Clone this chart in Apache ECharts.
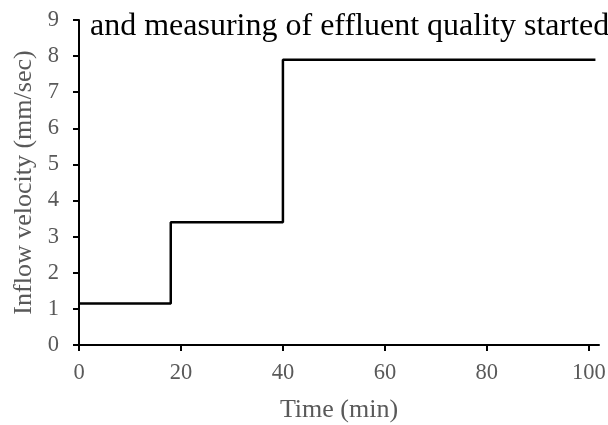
<!DOCTYPE html>
<html>
<head>
<meta charset="utf-8">
<style>
  html, body { margin: 0; padding: 0; background: #fff; }
  #chart { width: 608px; height: 425px; }
</style>
<script src="https://cdn.jsdelivr.net/npm/echarts@6/dist/echarts.min.js"></script>
</head>
<body>
<div id="chart"></div>
<script>
// Inflow velocity steps: each value holds from its time until the next time
const stepTimes = [0, 18, 40, 101.3];
const velocities = [1.15, 3.4, 7.9, 7.9];
const xTicks = [0, 20, 40, 60, 80, 100];
const yTicks = [0, 1, 2, 3, 4, 5, 6, 7, 8, 9];
const noteText = 'and measuring of effluent quality started';

const serif = 'Liberation Serif, Times New Roman, serif';
const grey = '#595959';

const chart = echarts.init(document.getElementById('chart'), null, { renderer: 'canvas' });
chart.setOption({
  animation: false,
  title: {
    text: noteText,
    left: 85,
    top: 6,
    textStyle: { fontFamily: serif, fontSize: 32, fontWeight: 'normal', color: '#000' }
  },
  grid: { left: 79, right: 9, top: 20, bottom: 80, containLabel: false, outerBoundsMode: 'none' },
  xAxis: {
    type: 'value',
    min: 0,
    max: 102,
    name: 'Time (min)',
    nameLocation: 'middle',
    nameGap: 52,
    nameTextStyle: { fontFamily: serif, fontSize: 26, color: grey },
    axisLine: { show: true, lineStyle: { color: '#000', width: 2 } },
    axisTick: { show: true, length: 6, lineStyle: { color: '#000', width: 2 }, customValues: xTicks },
    axisLabel: { fontFamily: serif, fontSize: 22.5, color: grey, margin: 17, customValues: xTicks },
    splitLine: { show: false }
  },
  yAxis: {
    type: 'value',
    min: 0,
    max: 9,
    interval: 1,
    name: 'Inflow velocity (mm/sec)',
    nameLocation: 'middle',
    nameGap: 35,
    nameRotate: 90,
    nameTextStyle: { fontFamily: serif, fontSize: 26, color: grey },
    axisLine: { show: true, lineStyle: { color: '#000', width: 2 } },
    axisTick: { show: true, inside: false, length: 6, lineStyle: { color: '#000', width: 2 }, customValues: yTicks },
    axisLabel: { fontFamily: serif, fontSize: 22.5, color: grey, margin: 20, customValues: yTicks },
    splitLine: { show: false }
  },
  series: [{
    type: 'line',
    step: 'end',
    symbol: 'none',
    data: stepTimes.map((t, i) => [t, velocities[i]]),
    lineStyle: { color: '#000', width: 2.5 },
    z: 1
  }]
});
</script>
</body>
</html>
